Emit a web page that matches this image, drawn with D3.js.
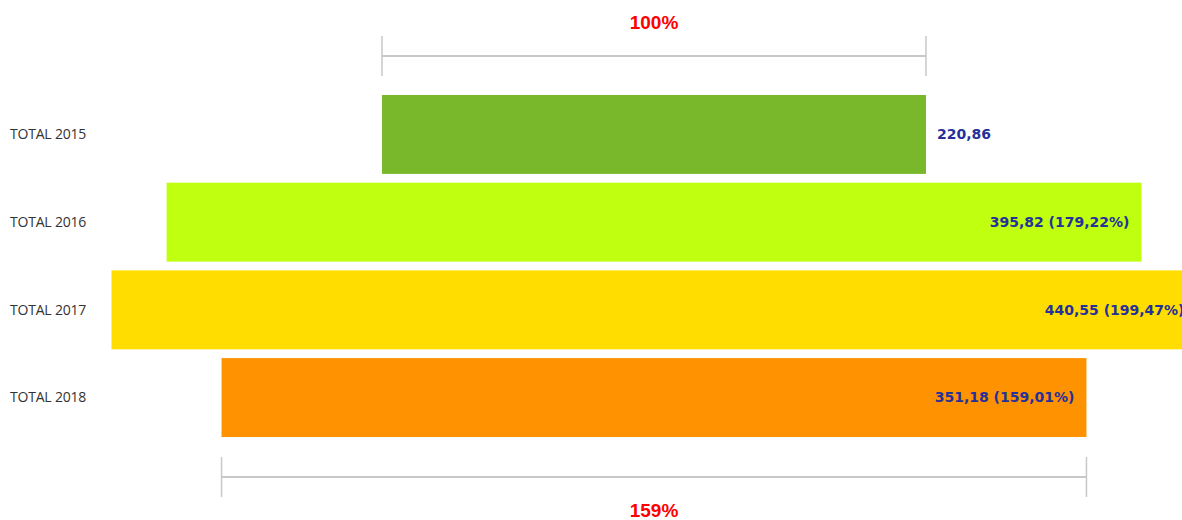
<!DOCTYPE html>
<html>
<head>
<meta charset="utf-8">
<script src="https://cdn.jsdelivr.net/npm/d3@7"></script>
<style>
html,body{margin:0;padding:0;background:#fff;overflow:hidden;}
</style>
</head>
<body>
<svg id="chart" width="1182" height="520"></svg>
<script>
const categories = ["TOTAL 2015", "TOTAL 2016", "TOTAL 2017", "TOTAL 2018"];
const values = [220.86, 395.82, 440.55, 351.18];
const valueLabels = ["220,86", "395,82 (179,22%)", "440,55 (199,47%)", "351,18 (159,01%)"];
const colors = ["#78b82a", "#bfff0f", "#ffdd00", "#ff9200"];
const topLabel = "100%";
const bottomLabel = "159%";

const svg = d3.select("#chart");
const cx = 654;
const w = d3.scaleLinear().domain([0, d3.max(values)]).range([0, 1085]);
const y = d3.scaleBand().domain(categories).range([90.6, 441.4]).paddingInner(0.1).paddingOuter(0.05);

// category labels
svg.selectAll("text.cat").data(categories).join("text")
  .attr("class","cat")
  .attr("x", 10)
  .attr("y", d => y(d) + y.bandwidth()/2)
  .attr("dy", "0.35em")
  .attr("font-family", "'Open Sans', 'Noto Sans', sans-serif")
  .attr("font-size", 14)
  .attr("fill", "#333")
  .attr("letter-spacing", -0.2)
  .text(d => d);

// bars
svg.selectAll("rect.bar").data(values).join("rect")
  .attr("class","bar")
  .attr("x", d => cx - w(d)/2)
  .attr("y", (d,i) => y(categories[i]))
  .attr("width", d => w(d))
  .attr("height", y.bandwidth())
  .attr("fill", (d,i) => colors[i]);

// value labels
svg.selectAll("text.val").data(values).join("text")
  .attr("class","val")
  .attr("x", (d,i) => i === 0 ? cx + w(d)/2 + 11 : cx + w(d)/2 - 12)
  .attr("y", (d,i) => y(categories[i]) + y.bandwidth()/2)
  .attr("dy", "0.35em")
  .attr("text-anchor", (d,i) => i === 0 ? "start" : "end")
  .attr("font-family", "'DejaVu Sans', 'Open Sans', sans-serif")
  .attr("font-size", 14)
  .attr("font-weight", "bold")
  .attr("fill", "#26309a")
  .text((d,i) => valueLabels[i]);

// brackets
function bracket(val, yLine, yLabel, label) {
  const x0 = cx - w(val)/2, x1 = cx + w(val)/2;
  const g = svg.append("g").attr("stroke", "#c8c8c8").attr("stroke-width", 1.5);
  g.append("line").attr("x1", x0).attr("x2", x1).attr("y1", yLine).attr("y2", yLine).attr("stroke-width", 2);
  g.append("line").attr("x1", x0).attr("x2", x0).attr("y1", yLine-20).attr("y2", yLine+20);
  g.append("line").attr("x1", x1).attr("x2", x1).attr("y1", yLine-20).attr("y2", yLine+20);
  svg.append("text")
    .attr("x", cx)
    .attr("y", yLabel)
    .attr("dy", "0.35em")
    .attr("text-anchor", "middle")
    .attr("font-family", "'Liberation Sans', Arial, sans-serif")
    .attr("font-size", 19)
    .attr("font-weight", "bold")
    .attr("fill", "#ff0000")
    .text(label);
}
bracket(values[0], 56, 22, topLabel);
bracket(values[3], 477, 510, bottomLabel);
</script>
</body>
</html>
